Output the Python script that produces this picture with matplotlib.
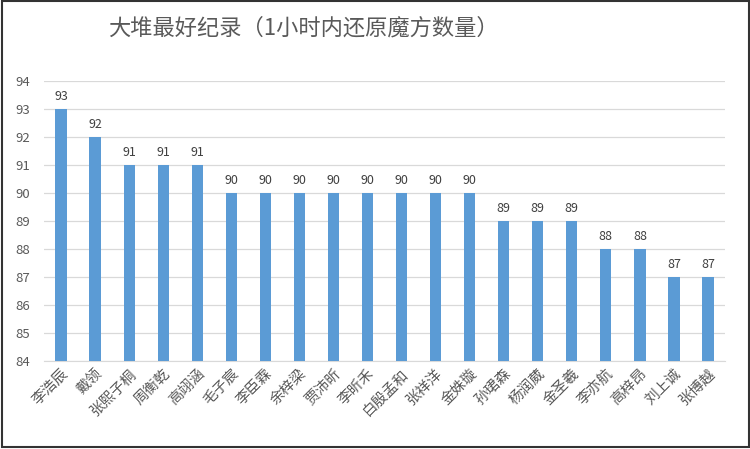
import numpy as np
import matplotlib.pyplot as plt
from matplotlib.patches import Rectangle

plt.rcParams['font.family'] = ['Noto Sans CJK SC', 'DejaVu Sans']

names = ['李浩辰', '戴领', '张熙子桐', '周衡乾', '高翊涵', '毛子宸', '李臣霖', '余梓梁',
         '贾沛昕', '李昕禾', '白殷孟和', '张祥洋', '金姝璇', '孙珺森', '杨润葳', '金圣羲',
         '李亦航', '高梓昂', '刘上诚', '张博越']
scores = [93, 92, 91, 91, 91, 90, 90, 90, 90, 90, 90, 90, 90, 89, 89, 89, 88, 88, 87, 87]
yticks = np.arange(84, 95, 1)

fig = plt.figure(figsize=(7.5, 4.49), dpi=100)
ax = fig.add_axes([0.0587, 0.196, 0.908, 0.6236])

x = np.arange(len(names))
bars = ax.bar(x, scores, width=0.33, color='#5B9BD5', zorder=3)
ax.bar_label(bars, labels=[str(s) for s in scores], padding=4, fontsize=9, color='#404040')

ax.set_ylim(84, 94)
ax.set_xlim(-0.5, len(names) - 0.5)
ax.set_yticks(yticks)
ax.yaxis.grid(True, color='#D9D9D9', linewidth=0.9, zorder=0)
ax.tick_params(axis='y', length=0, labelsize=9.5, labelcolor='#595959', pad=10)
ax.tick_params(axis='x', length=0, pad=4)
ax.set_xticks(x)
ax.set_xticklabels(names, rotation=45, ha='right', rotation_mode='anchor',
                   fontsize=10.5, color='#595959')
for s in ['top', 'right', 'left']:
    ax.spines[s].set_visible(False)
ax.spines['bottom'].set_color('#D9D9D9')

fig.text(0.405, 0.937, '大堆最好纪录（1小时内还原魔方数量）', ha='center', va='center',
         fontsize=16, color='#595959', fontweight='medium')

fig.patches.append(Rectangle((0.002, 0.004), 0.996, 0.993, transform=fig.transFigure,
                             fill=False, edgecolor='#333333', linewidth=1.5))

fig.savefig('out.png', dpi=100)
